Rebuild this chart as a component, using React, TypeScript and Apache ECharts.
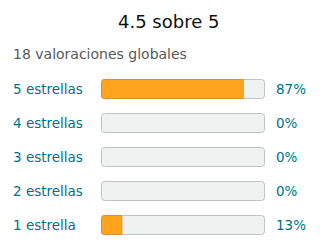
import React, { useEffect, useRef } from "react";
import * as echarts from "echarts";

const titleText = "4.5 sobre 5";
const subtitleText = "18 valoraciones globales";
const categories = ["5 estrellas", "4 estrellas", "3 estrellas", "2 estrellas", "1 estrella"];
const percents = [87, 0, 0, 0, 13];
const trackValues = [100, 100, 100, 100, 100];

const FONT = "DejaVu Sans";

export default function App() {
  const ref = useRef<HTMLDivElement>(null);
  useEffect(() => {
    if (!ref.current) return;
    const chart = echarts.init(ref.current, null, { renderer: "svg" });
    chart.setOption({
      animation: false,
      title: [
        {
          text: titleText,
          left: 118,
          top: 12,
          padding: 0,
          textStyle: { fontFamily: FONT, fontSize: 18, fontWeight: "normal", color: "#0F1111" },
        },
        {
          text: subtitleText,
          left: 13,
          top: 47,
          padding: 0,
          textStyle: { fontFamily: FONT, fontSize: 14, fontWeight: "normal", color: "#565959" },
        },
      ],
      grid: { left: 101, right: 55, top: 72, height: 170 },
      xAxis: { type: "value", min: 0, max: 100, show: false },
      yAxis: [
        {
          type: "category",
          data: categories,
          inverse: true,
          axisLine: { show: false },
          axisTick: { show: false },
          splitLine: { show: false },
          axisLabel: {
            align: "left",
            margin: 88,
            color: "#007185",
            fontFamily: FONT,
            fontSize: 13.5,
          },
        },
        {
          type: "category",
          data: categories,
          inverse: true,
          position: "right",
          axisLine: { show: false },
          axisTick: { show: false },
          splitLine: { show: false },
          axisLabel: {
            align: "left",
            margin: 11,
            color: "#007185",
            fontFamily: FONT,
            fontSize: 13.5,
            formatter: (_v: string, i: number) => percents[i] + "%",
          },
        },
      ],
      series: [
        {
          type: "bar",
          data: trackValues,
          barWidth: 20,
          barGap: "-100%",
          silent: true,
          itemStyle: { color: "#F0F2F2", borderColor: "#C0C3C3", borderWidth: 1, borderRadius: 3 },
        },
        {
          type: "bar",
          data: percents.map((v) => (v === 0 ? { value: v, itemStyle: { borderWidth: 0 } } : v)),
          barWidth: 20,
          barGap: "-100%",
          silent: true,
          itemStyle: { color: "#FFA41C", borderColor: "#D99420", borderWidth: 1, borderRadius: [3, 0, 0, 3] },
        },
      ],
    });
    return () => chart.dispose();
  }, []);
  return <div ref={ref} style={{ width: 320, height: 252, margin: -8 }} />;
}
